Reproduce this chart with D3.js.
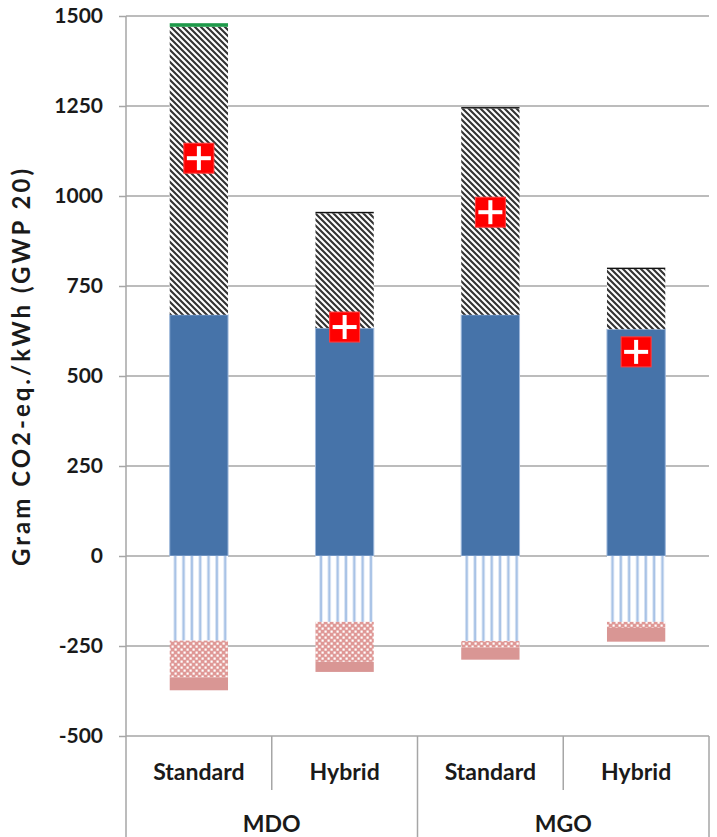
<!DOCTYPE html>
<html>
<head>
<meta charset="utf-8">
<script src="https://cdn.jsdelivr.net/npm/d3@7"></script>
<style>
  html, body { margin: 0; padding: 0; background: #fff; }
  svg { display: block; }
  text { font-family: Lato, "Open Sans", sans-serif; font-weight: 700; fill: #1a1a1a; }
</style>
</head>
<body>
<svg id="chart" width="717" height="837"></svg>
<script>
// Fuel groups and engine variants along the category axis
const fuels = ["MDO", "MGO"];
const variants = ["Standard", "Hybrid", "Standard", "Hybrid"];

// Positive contributions (g CO2-eq./kWh), stacked bottom to top
const combustion = [670, 633, 670, 630];
const upstream = [800, 319, 573, 167];
const topGreen = [10, 0, 0, 0];
const topBlack = [0, 4, 4, 4];

// Negative contributions, stacked downward from zero
const credits = [-235, -183, -236, -183];
const creditsChecker = [-102, -111, -18, -17];
const creditsSolid = [-36, -28, -34, -38];

// Net result per configuration
const netValues = [1105, 636, 955, 567];

const yTicks = [-500, -250, 0, 250, 500, 750, 1000, 1250, 1500];

const svg = d3.select("#chart");
const plotL = 126, plotR = 709, plotT = 16, plotB = 736;

const y = d3.scaleLinear().domain([-500, 1500]).range([plotB, plotT]);
const x = d3.scaleBand().domain(d3.range(4)).range([plotL, plotR])
  .paddingInner(0.6).paddingOuter(0.3);
const step = x.step();

// Fill patterns
const defs = svg.append("defs");
const hatch = defs.append("pattern").attr("id", "hatch")
  .attr("patternUnits", "userSpaceOnUse").attr("width", 6).attr("height", 6);
hatch.append("rect").attr("width", 6).attr("height", 6).attr("fill", "#fff");
hatch.append("path").attr("d", "M-1,-1 L7,7 M-1,5 L1,7 M5,-1 L7,1")
  .attr("stroke", "#333").attr("stroke-width", 2.1);

const vlines = defs.append("pattern").attr("id", "vlines")
  .attr("patternUnits", "objectBoundingBox").attr("width", 1 / 7).attr("height", 1);
vlines.append("rect").attr("width", 20).attr("height", 2000).attr("fill", "#fff");
vlines.append("rect").attr("x", 4.2).attr("width", 2.6).attr("height", 2000).attr("fill", "#a9c3e6");

const checker = defs.append("pattern").attr("id", "checker")
  .attr("patternUnits", "userSpaceOnUse").attr("width", 6).attr("height", 6);
checker.append("rect").attr("width", 6).attr("height", 6).attr("fill", "#df9896");
checker.append("rect").attr("x", 0.5).attr("y", 0.5).attr("width", 2.2).attr("height", 2.2).attr("fill", "#fff");
checker.append("rect").attr("x", 3.5).attr("y", 3.5).attr("width", 2.2).attr("height", 2.2).attr("fill", "#fff");

// Horizontal gridlines
const gridColor = "#a6a6a6";
svg.append("g").selectAll("line").data(yTicks).join("line")
  .attr("x1", plotL).attr("x2", plotR)
  .attr("y1", d => y(d)).attr("y2", d => y(d))
  .attr("stroke", gridColor).attr("stroke-width", 1.5);

// Stacked series definition
const positive = [
  { values: combustion, fill: "#4673a9", stroke: "#9bb6da" },
  { values: upstream, fill: "url(#hatch)", stroke: "none" },
  { values: topGreen, fill: "#1f9a4a", stroke: "none" },
  { values: topBlack, fill: "#111", stroke: "none" }
];
const negative = [
  { values: credits, fill: "url(#vlines)", stroke: "none" },
  { values: creditsChecker, fill: "url(#checker)", stroke: "none" },
  { values: creditsSolid, fill: "#d99694", stroke: "none" }
];

function drawStack(series) {
  const base = [0, 0, 0, 0];
  series.forEach(s => {
    const segs = s.values.map((v, i) => {
      const a = base[i], b = base[i] + v;
      base[i] = b;
      return { i, a, b, v };
    }).filter(d => d.v !== 0);
    svg.append("g").selectAll("rect").data(segs).join("rect")
      .attr("x", d => x(d.i))
      .attr("width", x.bandwidth())
      .attr("y", d => y(Math.max(d.a, d.b)))
      .attr("height", d => Math.abs(y(d.a) - y(d.b)))
      .attr("fill", s.fill)
      .attr("stroke", s.stroke)
      .attr("stroke-width", 1);
  });
}
drawStack(positive);
drawStack(negative);

// Net markers: red squares with white cross
const mk = svg.append("g").selectAll("g").data(netValues).join("g")
  .attr("transform", (d, i) => `translate(${x(i) + x.bandwidth() / 2},${y(d)})`);
mk.append("rect").attr("x", -15).attr("y", -15).attr("width", 30).attr("height", 30)
  .attr("fill", "#ff0000").attr("stroke", "#ff4040").attr("stroke-width", 1);
mk.append("rect").attr("x", -2).attr("y", -12).attr("width", 4).attr("height", 24).attr("fill", "#fff");
mk.append("rect").attr("x", -12).attr("y", -2).attr("width", 24).attr("height", 4).attr("fill", "#fff");

// Y axis
const yAxis = svg.append("g").attr("transform", `translate(${plotL},0)`)
  .call(d3.axisLeft(y).tickValues(yTicks).tickSize(7).tickPadding(16).tickFormat(d => String(d)));
yAxis.select(".domain").remove();
yAxis.selectAll(".tick line").attr("stroke", gridColor).attr("stroke-width", 1.5);
yAxis.selectAll(".tick text").style("font-size", "21px").attr("fill", "#1a1a1a")
  .style("font-family", "Lato, sans-serif").style("font-weight", 700);
svg.append("line").attr("x1", plotL).attr("x2", plotL).attr("y1", plotT).attr("y2", 837)
  .attr("stroke", gridColor).attr("stroke-width", 1.5);

// Category axis box
const catG = svg.append("g");
[1, 3].forEach(i => {
  const xx = plotL + step * i;
  catG.append("line").attr("x1", xx).attr("x2", xx).attr("y1", plotB).attr("y2", 790)
    .attr("stroke", gridColor).attr("stroke-width", 1.5);
});
[2, 4].forEach(i => {
  const xx = plotL + step * i;
  catG.append("line").attr("x1", xx).attr("x2", xx).attr("y1", plotB).attr("y2", 837)
    .attr("stroke", gridColor).attr("stroke-width", 1.5);
});
catG.selectAll("text.var").data(variants).join("text").attr("class", "var")
  .attr("x", (d, i) => x(i) + x.bandwidth() / 2).attr("y", 780)
  .attr("text-anchor", "middle").style("font-size", "23px").text(d => d);
catG.selectAll("text.fuel").data(fuels).join("text").attr("class", "fuel")
  .attr("x", (d, i) => plotL + step * (2 * i + 1)).attr("y", 832)
  .attr("text-anchor", "middle").style("font-size", "23px").text(d => d);

// Y axis title
svg.append("text")
  .attr("transform", `translate(30,366) rotate(-90)`)
  .attr("text-anchor", "middle").style("font-size", "24px")
  .style("letter-spacing", "3px")
  .text("Gram CO2-eq./kWh (GWP  20)");
</script>
</body>
</html>
